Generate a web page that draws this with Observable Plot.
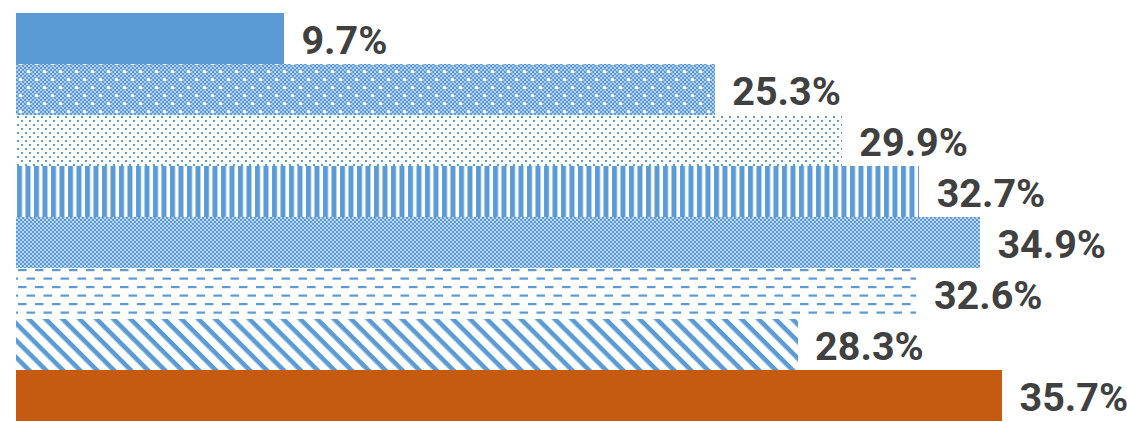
<!DOCTYPE html>
<html>
<head>
<meta charset="utf-8">
<script src="https://cdn.jsdelivr.net/npm/d3@7"></script>
<script src="https://cdn.jsdelivr.net/npm/@observablehq/plot@0.6"></script>
<style>
  html, body { margin: 0; padding: 0; background: #fff; }
  #chart svg { display: block; }
</style>
</head>
<body>
<div id="chart"></div>
<script>
// ---- data ----
const categories = ["A", "B", "C", "D", "E", "F", "G", "H"];
const values = [9.7, 25.3, 29.9, 32.7, 34.9, 32.6, 28.3, 35.7];
const labels = ["9.7%", "25.3%", "29.9%", "32.7%", "34.9%", "32.6%", "28.3%", "35.7%"];

// ---- styles (pattern per bar) ----
const BLUE = "#5B9BD5";
const ORANGE = "#C55A11";
const fillIds = ["p-solid", "p-confetti", "p-dots", "p-vert", "p-check", "p-dash", "p-diag", "p-orange"];

const data = categories.map((c, i) => ({cat: c, value: values[i], label: labels[i], fill: `url(#${fillIds[i]})`}));

const chart = Plot.plot({
  width: 1127,
  height: 422,
  marginLeft: 16,
  marginRight: 125,
  marginTop: 11,
  marginBottom: 0,
  x: {domain: [0, 35.7], axis: null},
  y: {domain: categories, axis: null, padding: 0},
  color: {type: "identity"},
  marks: [
    Plot.barX(data, {x: "value", y: "cat", fill: "fill", shapeRendering: "crispEdges"}),
    Plot.text(data, {
      x: "value", y: "cat", text: "label",
      textAnchor: "start", dx: 17, dy: 2,
      fontSize: 39.5, fontWeight: "bold", fill: "#404040",
      fontFamily: "Roboto, 'Open Sans', sans-serif"
    })
  ]
});

// build pattern definitions
const svg = d3.select(chart);
const defs = svg.insert("defs", ":first-child");
function pat(id, w, h, transform) {
  const p = defs.append("pattern").attr("id", id).attr("patternUnits", "userSpaceOnUse")
    .attr("width", w).attr("height", h).attr("x", 16).attr("y", 11);
  if (transform) p.attr("patternTransform", transform);
  p.append("rect").attr("width", w).attr("height", h).attr("fill", "#fff");
  return p;
}
// solid
pat("p-solid", 4, 4).append("rect").attr("width", 4).attr("height", 4).attr("fill", BLUE);
pat("p-orange", 4, 4).append("rect").attr("width", 4).attr("height", 4).attr("fill", ORANGE);
// confetti: checker with white spots
{
  const p = pat("p-confetti", 16, 16);
  for (let i = 0; i < 8; i++) for (let j = 0; j < 8; j++) {
    p.append("rect").attr("x", 2 * i).attr("y", 2 * j).attr("width", 2).attr("height", 2)
      .attr("fill", (i + j) % 2 === 0 ? BLUE : "#b3cfeb");
  }
  p.append("rect").attr("x", 3).attr("y", 3).attr("width", 3).attr("height", 3).attr("fill", "#fff");
  p.append("rect").attr("x", 11).attr("y", 11).attr("width", 3).attr("height", 3).attr("fill", "#fff");
}
// dots
{
  const p = pat("p-dots", 8, 8);
  p.append("rect").attr("x", 1).attr("y", 1).attr("width", 2).attr("height", 2).attr("fill", BLUE);
  p.append("rect").attr("x", 5).attr("y", 5).attr("width", 2).attr("height", 2).attr("fill", BLUE);
}
// vertical stripes
{
  const p = pat("p-vert", 8.5, 10);
  p.append("rect").attr("x", 1).attr("y", 0).attr("width", 5).attr("height", 10).attr("fill", BLUE);
}
// fine checkerboard
{
  const p = pat("p-check", 8, 8);
  for (let i = 0; i < 4; i++) for (let j = 0; j < 4; j++) {
    p.append("rect").attr("x", 2 * i).attr("y", 2 * j).attr("width", 2).attr("height", 2)
      .attr("fill", (i + j) % 2 === 0 ? BLUE : "#bcd5ee");
  }
}
// dashes
{
  const p = pat("p-dash", 17, 17);
  p.append("rect").attr("x", 2).attr("y", 3).attr("width", 8.5).attr("height", 2.2).attr("fill", BLUE);
  p.append("rect").attr("x", 10.5).attr("y", 11.5).attr("width", 8.5).attr("height", 2.2).attr("fill", BLUE);
  p.append("rect").attr("x", -6.5).attr("y", 11.5).attr("width", 8.5).attr("height", 2.2).attr("fill", BLUE);
}
// diagonal stripes (down-right)
{
  const p = pat("p-diag", 12, 12, "rotate(45)");
  p.append("rect").attr("x", 0).attr("y", 0).attr("width", 12).attr("height", 4.6).attr("fill", BLUE);
}

document.getElementById("chart").appendChild(chart);
</script>
</body>
</html>
